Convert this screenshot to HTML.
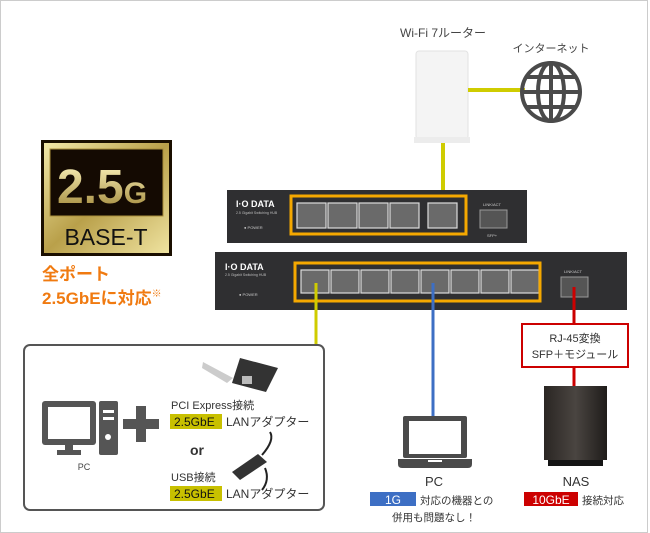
<!DOCTYPE html>
<html><head><meta charset="utf-8"><style>
body{margin:0;background:#fff;}
svg{display:block;font-family:"Liberation Sans","Noto Sans CJK JP",sans-serif;}
</style></head><body>
<svg width="650" height="533" viewBox="0 0 650 533" xmlns="http://www.w3.org/2000/svg">
<defs>
<linearGradient id="gold" x1="0" y1="0" x2="1" y2="1">
<stop offset="0" stop-color="#f3e9a8"/><stop offset="0.5" stop-color="#b9a04a"/><stop offset="1" stop-color="#efe3a0"/></linearGradient>
<linearGradient id="goldt" x1="0" y1="0" x2="0" y2="1">
<stop offset="0" stop-color="#fff6c0"/><stop offset="1" stop-color="#9c8232"/></linearGradient>
<linearGradient id="nas" x1="0" y1="0" x2="1" y2="0">
<stop offset="0" stop-color="#2a2623"/><stop offset="0.5" stop-color="#4a4541"/><stop offset="1" stop-color="#1f1c1a"/></linearGradient>
</defs>
<rect x="0.5" y="0.5" width="647" height="532" fill="#fff" stroke="#ccc"/>

<!-- router -->
<text x="443" y="37" font-size="12" fill="#444" text-anchor="middle">Wi-Fi 7ルーター</text>
<rect x="416" y="51" width="52" height="88" rx="3" fill="#f4f4f4" stroke="#e2e2e2"/>
<rect x="414" y="137" width="56" height="6" fill="#ececec"/>
<line x1="468" y1="90" x2="525" y2="90" stroke="#cfcc00" stroke-width="4"/>
<line x1="443" y1="143" x2="443" y2="220" stroke="#cfcc00" stroke-width="4"/>
<!-- globe -->
<text x="551" y="52" font-size="11" fill="#444" text-anchor="middle">インターネット</text>
<g stroke="#4a4a4a" stroke-width="4" fill="none">
<circle cx="551" cy="92" r="29"/>
<ellipse cx="551" cy="92" rx="13" ry="29"/>
<line x1="551" y1="63" x2="551" y2="121"/>
<line x1="522" y1="92" x2="580" y2="92"/>
<line x1="527" y1="77" x2="575" y2="77"/>
<line x1="527" y1="107" x2="575" y2="107"/>
</g>

<!-- badge -->
<rect x="41" y="140" width="131" height="116" fill="#1a0f00"/>
<rect x="44" y="143" width="125" height="110" fill="url(#gold)"/>
<rect x="50" y="149" width="113" height="67" fill="#140a02" stroke="#a98d3a"/>
<text x="102" y="203" font-size="48" font-weight="bold" fill="url(#goldt)" text-anchor="middle">2.5<tspan font-size="30">G</tspan></text>
<text x="106" y="245" font-size="23" fill="#111" text-anchor="middle">BASE-T</text>
<text x="42" y="280" font-size="17" font-weight="bold" fill="#f07a10">全ポート</text>
<text x="42" y="304" font-size="17" font-weight="bold" fill="#f07a10">2.5GbEに対応<tspan font-size="10" font-weight="normal" dy="-7">※</tspan></text>

<!-- top switch -->
<rect x="227" y="190" width="300" height="53" fill="#2f2f31"/>
<text x="236" y="207" font-size="9" font-weight="bold" fill="#fff">I·O DATA</text>
<text x="236" y="214" font-size="3.5" fill="#bbb">2.5 Gigabit Switching HUB</text>
<text x="244" y="229" font-size="4" fill="#ccc">● POWER</text>
<g fill="#6a6a6a" stroke="#ddd" stroke-width="1.2">
<rect x="297" y="203" width="29" height="25"/><rect x="328" y="203" width="29" height="25"/>
<rect x="359" y="203" width="29" height="25"/><rect x="390" y="203" width="29" height="25"/>
<rect x="428" y="203" width="29" height="25"/>
</g>
<rect x="480" y="210" width="27" height="18" fill="#555" stroke="#999"/>
<text x="483" y="206" font-size="4" fill="#ccc">LINK/ACT</text>
<text x="487" y="237" font-size="4" fill="#ccc">SFP+</text>
<rect x="291" y="196" width="175" height="38" fill="none" stroke="#f5a800" stroke-width="3"/>

<!-- bottom switch -->
<rect x="215" y="252" width="412" height="58" fill="#2f2f31"/>
<text x="225" y="270" font-size="9" font-weight="bold" fill="#fff">I·O DATA</text>
<text x="225" y="276" font-size="3.5" fill="#bbb">2.5 Gigabit Switching HUB</text>
<text x="239" y="296" font-size="4" fill="#ccc">● POWER</text>
<g fill="#6a6a6a" stroke="#ddd" stroke-width="1.2">
<rect x="301" y="270" width="28" height="23"/><rect x="331" y="270" width="28" height="23"/>
<rect x="361" y="270" width="28" height="23"/><rect x="391" y="270" width="28" height="23"/>
<rect x="421" y="270" width="28" height="23"/><rect x="451" y="270" width="28" height="23"/>
<rect x="481" y="270" width="28" height="23"/><rect x="511" y="270" width="28" height="23"/>
</g>
<rect x="561" y="277" width="27" height="20" fill="#555" stroke="#999"/>
<text x="564" y="273" font-size="4" fill="#ccc">LINK/ACT</text>
<rect x="295" y="263" width="245" height="38" fill="none" stroke="#f5a800" stroke-width="3"/>

<!-- connectors -->
<line x1="316" y1="283" x2="316" y2="347" stroke="#cfcc00" stroke-width="3"/>
<line x1="433" y1="283" x2="433" y2="418" stroke="#3d6fc4" stroke-width="3"/>
<line x1="574" y1="287" x2="574" y2="386" stroke="#cc0000" stroke-width="3"/>

<!-- left box -->
<rect x="24" y="345" width="300" height="165" rx="6" fill="#fff" stroke="#555" stroke-width="2"/>
<g fill="#555">
<rect x="42" y="401" width="54" height="44" rx="3"/>
<rect x="48" y="407" width="42" height="32" fill="#fff"/>
<rect x="65" y="445" width="8" height="6"/><rect x="57" y="450" width="24" height="5"/>
<rect x="99" y="401" width="19" height="54" rx="2"/>
<rect x="123" y="419" width="36" height="10"/><rect x="136" y="406" width="10" height="36"/>
</g>
<rect x="103" y="410" width="11" height="3" fill="#fff"/><rect x="103" y="417" width="11" height="3" fill="#fff"/>
<circle cx="108" cy="437" r="3" fill="#fff"/>
<text x="84" y="470" font-size="9" fill="#444" text-anchor="middle">PC</text>
<!-- pcie card -->
<polygon points="203,362 233,378 227,383 202,368" fill="#ccc"/>
<polygon points="240,358 278,368 266,392 232,383" fill="#333"/>
<rect x="242" y="376" width="10" height="8" fill="#bbb"/>
<text x="171" y="409" font-size="11" fill="#333">PCI Express接続</text>
<rect x="170" y="414" width="52" height="15" fill="#c8c000"/>
<text x="174" y="426" font-size="12" fill="#111">2.5GbE</text>
<text x="226" y="426" font-size="12" fill="#333">LANアダプター</text>
<text x="190" y="455" font-size="14" font-weight="bold" fill="#333">or</text>
<polygon points="232,472 258,454 267,462 240,480" fill="#333"/>
<path d="M262,455 Q275,440 270,432" stroke="#222" stroke-width="2" fill="none"/>
<path d="M265,468 Q270,480 262,490" stroke="#222" stroke-width="2" fill="none"/>
<text x="171" y="481" font-size="11" fill="#333">USB接続</text>
<rect x="170" y="486" width="52" height="15" fill="#c8c000"/>
<text x="174" y="498" font-size="12" fill="#111">2.5GbE</text>
<text x="226" y="498" font-size="12" fill="#333">LANアダプター</text>

<!-- laptop -->
<rect x="403" y="416" width="64" height="42" rx="2" fill="#4a4a4a"/>
<rect x="409" y="421" width="52" height="33" fill="#fff"/>
<path d="M398,459 H472 V464 Q472,468 468,468 H402 Q398,468 398,464 Z" fill="#4a4a4a"/>
<rect x="428" y="460" width="14" height="2" fill="#fff"/>
<text x="434" y="486" font-size="13" fill="#333" text-anchor="middle">PC</text>
<rect x="370" y="492" width="46" height="14" fill="#3d6fc4"/>
<text x="393" y="504" font-size="12" fill="#fff" text-anchor="middle">1G</text>
<text x="420" y="504" font-size="10.5" fill="#333">対応の機器との</text>
<text x="392" y="521" font-size="10.5" fill="#333">併用も問題なし！</text>

<!-- red box -->
<rect x="522" y="324" width="106" height="43" fill="#fff" stroke="#cc0000" stroke-width="2"/>
<text x="575" y="342" font-size="11" fill="#333" text-anchor="middle">RJ-45変換</text>
<text x="575" y="358" font-size="11" fill="#333" text-anchor="middle">SFP＋モジュール</text>
<!-- NAS -->
<rect x="544" y="386" width="63" height="74" fill="url(#nas)"/>
<rect x="548" y="460" width="55" height="6" fill="#151515"/>
<text x="576" y="486" font-size="13" fill="#333" text-anchor="middle">NAS</text>
<rect x="524" y="492" width="54" height="14" fill="#cc0000"/>
<text x="551" y="504" font-size="12" fill="#fff" text-anchor="middle">10GbE</text>
<text x="582" y="504" font-size="10.5" fill="#333">接続対応</text>
</svg>
</body></html>
